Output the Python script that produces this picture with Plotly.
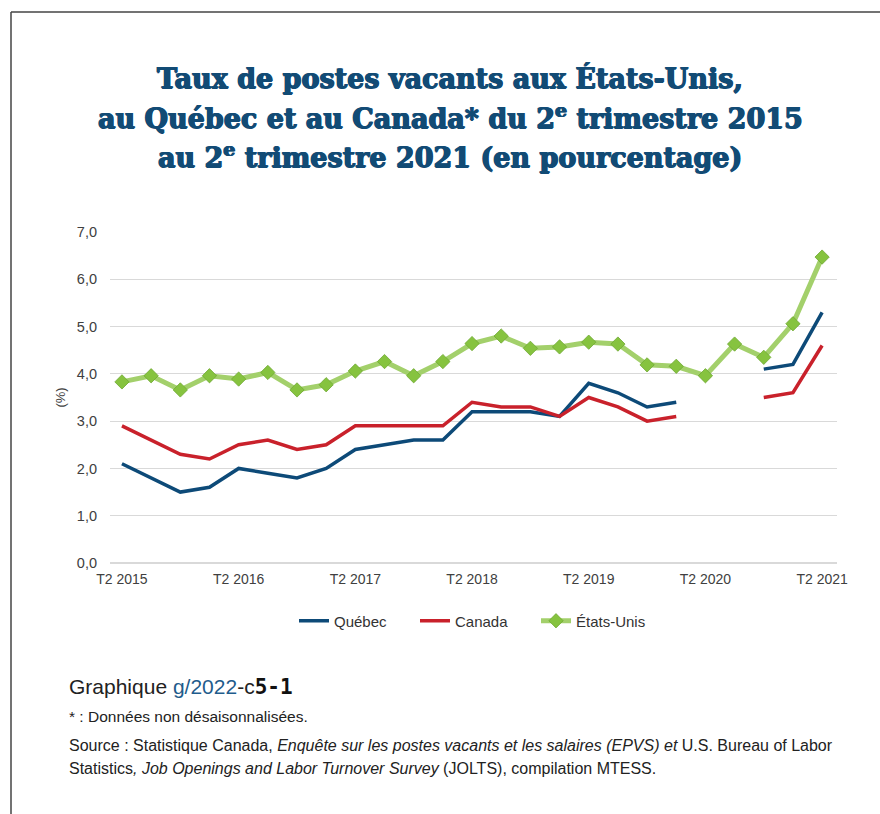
import plotly.graph_objects as go

quarters = [f"T{q} {y}" for y in range(2015, 2022) for q in (1, 2, 3, 4)][1:26]
tick_labels = ["T2 2015", "T2 2016", "T2 2017", "T2 2018", "T2 2019", "T2 2020", "T2 2021"]

quebec = [2.1, 1.8, 1.5, 1.6, 2.0, 1.9, 1.8, 2.0, 2.4, 2.5, 2.6, 2.6,
          3.2, 3.2, 3.2, 3.1, 3.8, 3.6, 3.3, 3.4, None, None, 4.1, 4.2, 5.3]
canada = [2.9, 2.6, 2.3, 2.2, 2.5, 2.6, 2.4, 2.5, 2.9, 2.9, 2.9, 2.9,
          3.4, 3.3, 3.3, 3.1, 3.5, 3.3, 3.0, 3.1, None, None, 3.5, 3.6, 4.6]
usa = [3.83, 3.96, 3.66, 3.96, 3.89, 4.03, 3.66, 3.77, 4.06, 4.26, 3.96, 4.26,
       4.64, 4.80, 4.54, 4.57, 4.67, 4.63, 4.19, 4.16, 3.96, 4.63, 4.35, 5.06, 6.47]

x_idx = list(range(len(quarters)))

# plot area in pixels
L, R, T, B = 110, 837, 232, 563
W, H = 880, 814
pw, ph = R - L, B - T


def px(x):
    return (x - L) / pw


def py(y):
    return (B - y) / ph


fig = go.Figure()
fig.add_trace(go.Scatter(x=x_idx, y=quebec, name="Québec", mode="lines",
                         line=dict(color="#0D4A78", width=3.5),
                         connectgaps=False))
fig.add_trace(go.Scatter(x=x_idx, y=canada, name="Canada", mode="lines",
                         line=dict(color="#C9212B", width=3.5),
                         connectgaps=False))
fig.add_trace(go.Scatter(x=x_idx, y=usa, name="États-Unis", mode="lines+markers",
                         line=dict(color="#A3D06B", width=5),
                         marker=dict(symbol="diamond", size=11, color="#86C33F",
                                     line=dict(color="#6FA832", width=0.8))))

tickvals = [quarters.index(t) for t in tick_labels]

fig.update_layout(
    width=W, height=H,
    margin=dict(l=L, r=W - R, t=T, b=H - B, autoexpand=False),
    paper_bgcolor="white", plot_bgcolor="white",
    font=dict(family="Liberation Sans, Arial, sans-serif", color="#404040", size=14),
    showlegend=True,
    legend=dict(orientation="h", x=px(294), xanchor="left", y=py(621), yanchor="middle",
                font=dict(size=15, color="#333333"), entrywidth=76,
                entrywidthmode="pixels", tracegroupgap=0, traceorder="normal"),
    xaxis=dict(range=[-0.41, 24.51], tickmode="array", tickvals=tickvals,
               ticktext=tick_labels, showgrid=False, zeroline=False,
               showline=False, ticks="", ticklabelstandoff=6,
               tickfont=dict(size=14, color="#404040")),
    yaxis=dict(range=[0, 7], tickmode="array", tickvals=[0, 1, 2, 3, 4, 5, 6, 7],
               ticktext=["0,0", "1,0", "2,0", "3,0", "4,0", "5,0", "6,0", "7,0"],
               showgrid=True, gridcolor="#D9D9D9", gridwidth=1, zeroline=True,
               zerolinecolor="#D9D9D9", zerolinewidth=1.5, ticks="",
               ticklabelstandoff=12, tickfont=dict(size=14.5, color="#404040"),
               title=dict(text="(%)", font=dict(size=13, color="#404040"), standoff=8)),
)

tc = "#124B75"
title_font = dict(family="DejaVu Serif, serif", size=27, color=tc,
                  shadow=f"0.7px 0 0 {tc}, -0.7px 0 0 {tc}, 0 0.5px 0 {tc}")
title_lines = [
    ("<b>Taux de postes vacants aux États-Unis,</b>", 78),
    ("<b>au Québec et au Canada* du 2<sup>e</sup> trimestre 2015</b>", 117),
    ("<b>au 2<sup>e</sup> trimestre 2021 (en pourcentage)</b>", 156),
]
for txt, yc in title_lines:
    fig.add_annotation(text=txt, x=px(450), y=py(yc), xref="paper", yref="paper",
                       xanchor="center", yanchor="middle", showarrow=False, font=title_font)

fig.add_annotation(
    text="Graphique <span style='color:#1F5C8C'>g/2022</span>-c"
         "<span style='font-family:DejaVu Sans Mono;font-weight:bold;color:#111'>5-1</span>",
    x=px(67), y=py(687), xref="paper", yref="paper", xanchor="left", yanchor="middle",
    showarrow=False, font=dict(size=21, color="#222222"))
fig.add_annotation(
    text="* : Données non désaisonnalisées.",
    x=px(67), y=py(716), xref="paper", yref="paper", xanchor="left", yanchor="middle",
    showarrow=False, font=dict(size=15.5, color="#222222"))
fig.add_annotation(
    text="Source : Statistique Canada, <i>Enquête sur les postes vacants et les salaires (EPVS) et</i> U.S. Bureau of Labor",
    x=px(67), y=py(745), xref="paper", yref="paper", xanchor="left", yanchor="middle",
    showarrow=False, font=dict(size=16, color="#222222"))
fig.add_annotation(
    text="Statistics<i>, Job Openings and Labor Turnover Survey</i> (JOLTS), compilation MTESS.",
    x=px(67), y=py(768), xref="paper", yref="paper", xanchor="left", yanchor="middle",
    showarrow=False, font=dict(size=16, color="#222222"))

# frame
fig.add_shape(type="line", xref="paper", yref="paper", x0=px(11), x1=px(880),
              y0=py(12), y1=py(12), line=dict(color="#444444", width=1.5))
fig.add_shape(type="line", xref="paper", yref="paper", x0=px(11), x1=px(11),
              y0=py(12), y1=py(814), line=dict(color="#444444", width=1.5))

fig.write_html("out.html", config={"displayModeBar": False},
               post_script="document.body.style.margin='0';")
